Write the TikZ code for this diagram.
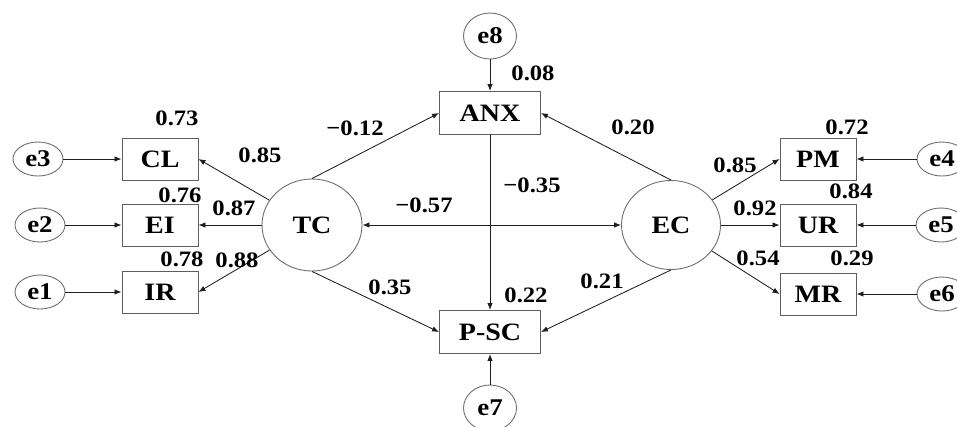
\documentclass[tikz,border=0pt]{standalone}
\usepackage{fontspec}
\setmainfont{Liberation Serif}[FakeStretch=1.12]
\usetikzlibrary{shapes.geometric,arrows.meta}
\definecolor{boxgray}{HTML}{5E5E5E}
\definecolor{ellgray}{HTML}{6E6E6E}
\definecolor{linegray}{HTML}{1E1E1E}
\begin{document}
\begin{tikzpicture}[x=1pt,y=-1pt,
  obs/.style={draw=boxgray, line width=0.9pt, rectangle, minimum width=76pt, minimum height=42pt, inner sep=0pt, font=\fontsize{25}{28}\selectfont\bfseries},
  wide/.style={obs, minimum width=101pt, minimum height=43pt},
  errs/.style={draw=ellgray, line width=0.9pt, ellipse, minimum width=50pt, minimum height=34pt, inner sep=0pt, font=\fontsize{24}{26}\selectfont\bfseries},
  errv/.style={errs, minimum width=53pt, minimum height=46pt},
  lat/.style={draw=ellgray, line width=0.9pt, ellipse, minimum width=100pt, minimum height=92pt, inner sep=0pt, font=\fontsize{25}{28}\selectfont\bfseries},
  coef/.style={inner sep=0pt, font=\fontsize{22}{24}\selectfont\bfseries},
  arr/.style={draw=linegray, line width=0.85pt, -{Latex[length=7pt,width=5.5pt]}},
  darr/.style={draw=linegray, line width=0.85pt, {Latex[length=7pt,width=5.5pt]}-{Latex[length=7pt,width=5.5pt]}}]
\useasboundingbox (0,0) rectangle (957,426);
% left indicators
\node[obs] (CL) at (160,159) {CL};
\node[obs] (EI) at (160,225) {EI};
\node[obs] (IR) at (160,292) {IR};
\node[errs] (e3) at (38,159) {e3};
\node[errs] (e2) at (40,225) {e2};
\node[errs] (e1) at (40,292) {e1};
% latent
\node[lat] (TC) at (312,225) {TC};
\node[lat, minimum width=99pt, minimum height=89pt] (EC) at (671,225) {EC};
% middle
\node[wide] (ANX) at (490,113) {ANX};
\node[wide] (PSC) at (490,332) {P-SC};
\node[errv] (e8) at (490,36) {e8};
\node[errv] (e7) at (490,408) {e7};
% right indicators
\node[obs] (PM) at (818,159) {PM};
\node[obs] (UR) at (818,225) {UR};
\node[obs] (MR) at (818,294) {MR};
\node[errs] (e4) at (942,159) {e4};
\node[errs] (e5) at (941,225) {e5};
\node[errs] (e6) at (942,294) {e6};
% connectors
\draw[arr] (e3) -- (CL);
\draw[arr] (e2) -- (EI);
\draw[arr] (e1) -- (IR);
\draw[arr] (TC) -- (CL.east);
\draw[arr] (TC) -- (EI);
\draw[arr] (TC) -- (IR.east);
\draw[arr] (TC.north) -- (ANX.west);
\draw[arr] (TC.south) -- (PSC.west);
\draw[arr] (EC.north) -- (ANX.east);
\draw[arr] (EC.south) -- (PSC.east);
\draw[darr] (TC) -- (EC);
\draw[arr] (ANX) -- (PSC);
\draw[arr] (e8) -- (ANX);
\draw[arr] (e7) -- (PSC);
\draw[arr] (EC) -- (PM.west);
\draw[arr] (EC) -- (UR);
\draw[arr] (EC) -- (MR.west);
\draw[arr] (e4) -- (PM);
\draw[arr] (e5) -- (UR);
\draw[arr] (e6) -- (MR);
% coefficients
\node[coef] (l73) at (177,118) {0.73};
\node[coef] (l85a) at (260,155) {0.85};
\node[coef] (l76) at (180,195) {0.76};
\node[coef] (l87) at (234,208) {0.87};
\node[coef] (l78) at (182,259) {0.78};
\node[coef] (l88) at (237,260) {0.88};
\node[coef] (l12) at (355,128) {−0.12};
\node[coef] (l08) at (533,73) {0.08};
\node[coef] (l20) at (633,127) {0.20};
\node[coef] (l35n) at (532,185) {−0.35};
\node[coef] (l57) at (424,205) {−0.57};
\node[coef] (l35) at (390,287) {0.35};
\node[coef] (l22) at (526,295) {0.22};
\node[coef] (l21) at (602,281) {0.21};
\node[coef] (l85b) at (735,165) {0.85};
\node[coef] (l72) at (847,127) {0.72};
\node[coef] (l84) at (851,191) {0.84};
\node[coef] (l92) at (755,208) {0.92};
\node[coef] (l54) at (758,258) {0.54};
\node[coef] (l29) at (852,258) {0.29};
\end{tikzpicture}
\end{document}
